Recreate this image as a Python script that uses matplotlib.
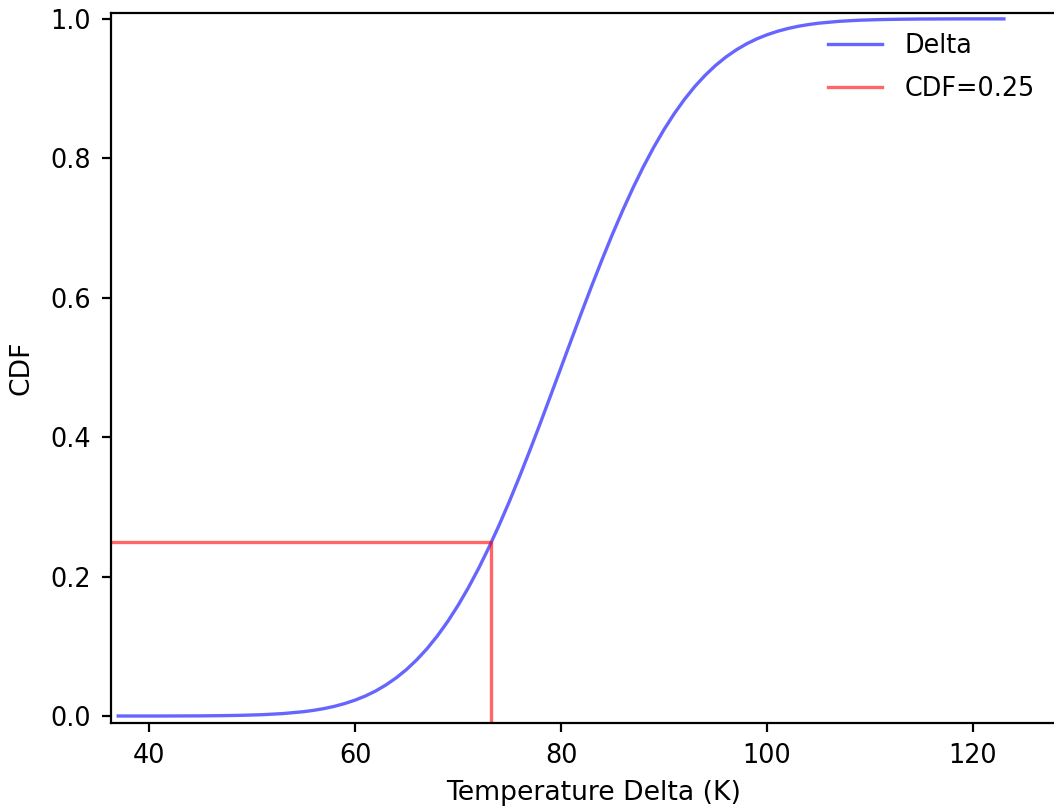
import matplotlib
matplotlib.use("Agg")
import matplotlib.pyplot as plt

# Temperature delta (K) and the CDF
delta_k = [37, 39, 41, 43, 45, 47, 49, 51, 53,
           55, 56, 57, 58, 59, 60, 61, 62, 63, 64, 65, 66, 67, 68, 69, 70,
           71, 72, 73, 74, 75, 76, 77, 78, 79, 80, 81, 82, 83, 84, 85, 86,
           87, 88, 89, 90, 91, 92, 93, 94, 95, 96, 97, 98, 99, 100, 101, 102,
           103, 104, 105,
           107, 109, 111, 113, 115, 117, 119, 121, 123]
cdf = [0.0, 0.0, 0.0, 0.0001, 0.0002, 0.0005, 0.001, 0.0019, 0.0035,
       0.0062, 0.0082, 0.0107, 0.0139, 0.0179, 0.0228, 0.0287, 0.0359, 0.0446,
       0.0548, 0.0668, 0.0808, 0.0968, 0.1151, 0.1357, 0.1587,
       0.1841, 0.2119, 0.2420, 0.2743, 0.3085, 0.3446, 0.3821, 0.4207, 0.4602,
       0.5, 0.5398, 0.5793, 0.6179, 0.6554, 0.6915, 0.7257,
       0.7580, 0.7881, 0.8159, 0.8413, 0.8643, 0.8849, 0.9032, 0.9192, 0.9332,
       0.9452, 0.9554, 0.9641, 0.9713, 0.9772, 0.9821, 0.9861,
       0.9893, 0.9918, 0.9938,
       0.9965, 0.9981, 0.9990, 0.9995, 0.9998, 0.9999, 1.0, 1.0, 1.0]

# quantile marker
cdf_level = 0.25
quantile_k = 73.2

x_lim = (36.3, 130)
y_lim = (-0.0096, 1.008)

plt.rcParams["xtick.major.size"] = 4.2
plt.rcParams["ytick.major.size"] = 4.2
plt.rcParams["xtick.major.pad"] = 5
plt.rcParams["ytick.major.pad"] = 5
plt.rcParams["axes.linewidth"] = 1.0

fig = plt.figure(figsize=(1054 / 160, 808 / 160), dpi=160)
ax = fig.add_axes([111 / 1054, 85.3 / 808, (1076 - 111) / 1054, (722.7 - 13.3) / 808])

ax.plot(delta_k, cdf, color="b", alpha=0.6, lw=1.5, label="Delta")
ax.plot([x_lim[0], quantile_k, quantile_k], [cdf_level, cdf_level, y_lim[0]],
        color="r", alpha=0.6, lw=1.5, label="CDF=0.25")

ax.set_xlim(*x_lim)
ax.set_ylim(*y_lim)
ax.set_xticks([40, 60, 80, 100, 120])
ax.set_yticks([0.0, 0.2, 0.4, 0.6, 0.8, 1.0])
ax.tick_params(labelsize=11.5, width=1.0)
ax.set_xlabel("Temperature Delta (K)", fontsize=12, labelpad=5)
ax.set_ylabel("CDF", fontsize=12, labelpad=7)

ax.legend(frameon=False, loc="upper left", borderpad=0, borderaxespad=0,
          fontsize=11.5, handlelength=2.1, handletextpad=0.9, labelspacing=0.65,
          bbox_to_anchor=(828 / 1054, 1 - 33 / 808), bbox_transform=fig.transFigure)

fig.savefig("out.png", dpi=160)
